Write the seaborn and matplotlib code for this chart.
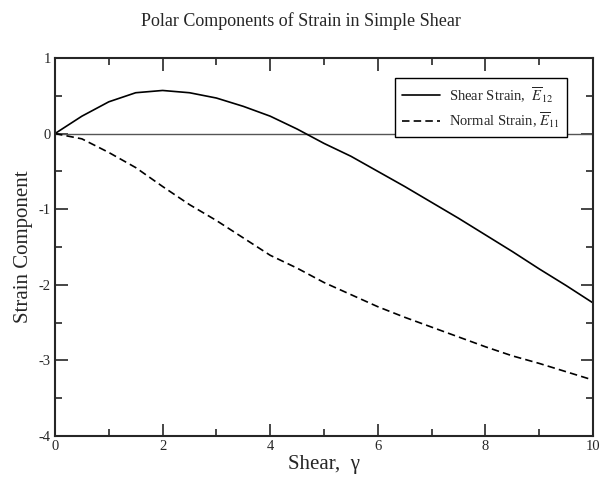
import pandas as pd
import matplotlib
matplotlib.use("Agg")
import matplotlib.pyplot as plt
import seaborn as sns
from matplotlib.ticker import MultipleLocator

# values
shear = [0, 0.5, 1.0, 1.5, 2.0, 2.5, 3.0, 3.5, 4.0, 4.5, 5.0,
         5.5, 6.0, 6.5, 7.0, 7.5, 8.0, 8.5, 9.0, 9.5, 10.0]
shear_strain = [0, 0.23, 0.42, 0.54, 0.57, 0.54, 0.47, 0.36, 0.23, 0.06, -0.13,
                -0.30, -0.50, -0.70, -0.91, -1.12, -1.34, -1.56, -1.79, -2.01, -2.24]
normal_strain = [0, -0.07, -0.25, -0.45, -0.70, -0.94, -1.15, -1.38, -1.61, -1.78, -1.97,
                 -2.13, -2.29, -2.43, -2.56, -2.69, -2.82, -2.94, -3.04, -3.15, -3.26]

label_shear = r"Shear Strain,  $\overline{E}_{12}$"
label_normal = r"Normal Strain, $\overline{E}_{11}$"

df = pd.DataFrame({
    "gamma": shear * 2,
    "strain": shear_strain + normal_strain,
    "component": [label_shear] * len(shear) + [label_normal] * len(shear),
})

sns.set_style("ticks")
plt.rcParams["font.family"] = ["Liberation Serif", "DejaVu Serif"]
plt.rcParams["mathtext.fontset"] = "stix"
plt.rcParams["axes.unicode_minus"] = False

fig = plt.figure(figsize=(6.01, 4.79), dpi=100)
ax = fig.add_axes([0.0915, 0.0898, 0.8952, 0.7892])

ax.axhline(0, color="#555555", lw=1.0, zorder=1)

sns.lineplot(data=df, x="gamma", y="strain", style="component",
             dashes={label_shear: "", label_normal: (4.5, 2.5)},
             color="black", lw=1.2, ax=ax, legend=True)

ax.set_xlim(0, 10)
ax.set_ylim(-4, 1)
ax.xaxis.set_major_locator(MultipleLocator(2))
ax.xaxis.set_minor_locator(MultipleLocator(1))
ax.yaxis.set_major_locator(MultipleLocator(1))
ax.yaxis.set_minor_locator(MultipleLocator(0.5))
ax.tick_params(which="both", direction="in", top=True, right=True,
               labelsize=10.5, width=1.2, pad=3)
ax.tick_params(which="major", length=9)
ax.tick_params(which="minor", length=5)
for s in ax.spines.values():
    s.set_linewidth(1.5)

ax.set_xlabel("Shear,  γ", fontsize=15, labelpad=1)
ax.set_ylabel("Strain Component", fontsize=15, labelpad=4)
fig.suptitle("Polar Components of Strain in Simple Shear", fontsize=13, y=0.975)

leg = ax.legend(loc="upper right", bbox_to_anchor=(0.952, 0.948), borderaxespad=0,
                fontsize=10.5, handlelength=2.6, fancybox=False, framealpha=1,
                edgecolor="black", borderpad=0.5, labelspacing=0.4, handletextpad=0.6)
leg.get_frame().set_linewidth(1.0)

fig.savefig("out.png", dpi=100)
